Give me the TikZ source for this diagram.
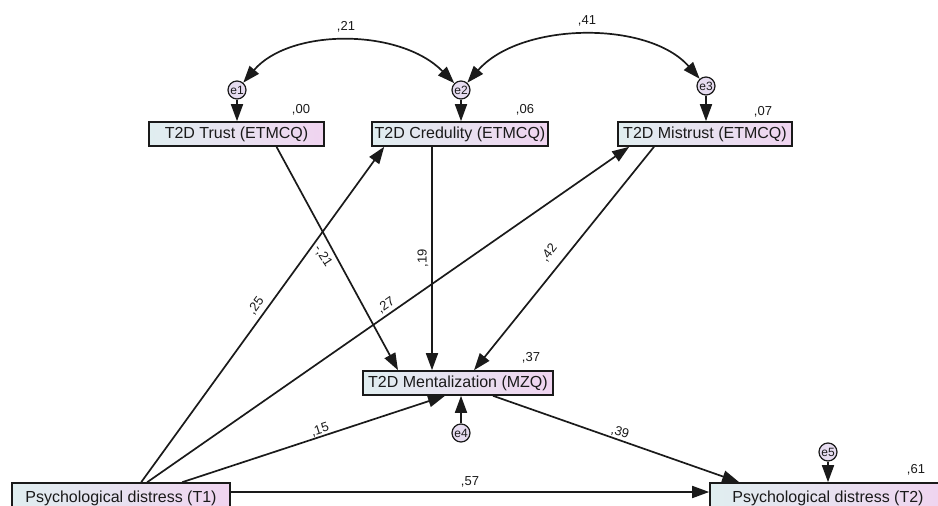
\documentclass[tikz,border=0pt]{standalone}
\usepackage{fontspec}
\setmainfont{Liberation Sans}
\usetikzlibrary{arrows.meta,calc}
\definecolor{boxL}{HTML}{E0EEF0}
\definecolor{boxR}{HTML}{F0D4F0}
\definecolor{errfill}{HTML}{E6DCF0}
\definecolor{ink}{HTML}{1A1A1A}
\begin{document}
\begin{tikzpicture}[x=1pt,y=-1pt,
  obs/.style={draw=ink,line width=1.6pt,left color=boxL,right color=boxR,shading angle=90,
    minimum height=24pt,inner sep=0pt,font=\fontsize{16}{16}\selectfont,text=ink},
  err/.style={circle,draw=ink,line width=1.2pt,fill=errfill,minimum size=18pt,inner sep=0pt,
    font=\fontsize{12}{12}\selectfont,text=ink},
  path/.style={draw=ink,line width=1.7pt,-{Triangle[length=17pt,width=12pt]}},
  cov/.style={draw=ink,line width=1.7pt,{Triangle[length=17pt,width=12pt]}-{Triangle[length=17pt,width=12pt]}},
  coef/.style={font=\fontsize{13}{13}\selectfont,text=ink,inner sep=0pt}]
\useasboundingbox (0,0) rectangle (938,506);
% observed variables
\node[obs,minimum width=175pt] (trust) at (236.5,134) {T2D Trust (ETMCQ)};
\node[obs,minimum width=176pt] (cred) at (460,134) {T2D Credulity (ETMCQ)};
\node[obs,minimum width=174pt] (mist) at (705,134) {T2D Mistrust (ETMCQ)};
\node[obs,minimum width=190pt] (ment) at (458,383) {T2D Mentalization (MZQ)};
\node[obs,minimum width=218pt,minimum height=30pt] (tone) at (121,498) {Psychological distress (T1)};
\node[obs,minimum width=236pt,minimum height=30pt] (ttwo) at (828,498) {Psychological distress (T2)};
% errors
\node[err] (e1) at (237,90) {e1};
\node[err] (e2) at (461,90) {e2};
\node[err] (e3) at (706,86) {e3};
\node[err] (e4) at (461,433) {e4};
\node[err] (e5) at (828,452) {e5};
% error arrows
\draw[path] (e1) -- (e1 |- trust.north);
\draw[path] (e2) -- (e2 |- cred.north);
\draw[path] (e3) -- (e3 |- mist.north);
\draw[path] (e4) -- (e4 |- ment.south);
\draw[path] (e5) -- (e5 |- ttwo.north);
% covariances
\draw[cov] (e1) .. controls (290,28) and (400,28) .. (e2);
\draw[cov] (e2) .. controls (520,22) and (648,20) .. (e3);
\node[coef] (c12) at (346,27) {,21};
\node[coef] (c23) at (587,21) {,41};
% R squared
\node[coef] (r1) at (301,110) {,00};
\node[coef] (r2) at (525,110) {,06};
\node[coef] (r3) at (763,112) {,07};
\node[coef] (r4) at (531,358) {,37};
\node[coef] (r5) at (916,470) {,61};
% structural paths
\draw[path] ([xshift=40pt]trust.south) -- ([xshift=-60pt]ment.north);
\draw[path] ([xshift=-28pt]cred.south) -- ([xshift=-26pt]ment.north);
\draw[path] ([xshift=-51pt]mist.south) -- ([xshift=16pt]ment.north);
\draw[path] ([xshift=130pt]tone.north west) -- ([xshift=13pt]cred.south west);
\draw[path] ([xshift=136pt]tone.north west) -- ([xshift=12pt]mist.south west);
\draw[path] ([xshift=171pt]tone.north west) -- ([xshift=-13pt]ment.south);
\draw[path] ([yshift=6pt]tone.east) -- ([yshift=6pt]ttwo.west);
\draw[path] ([xshift=35pt]ment.south) -- ([xshift=30pt]ttwo.north west);
% path coefficients
\node[coef,rotate=54] (p1) at (256,306) {,25};
\node[coef,rotate=-57] (p2) at (323,256) {-,21};
\node[coef,rotate=90] (p3) at (423,258) {,19};
\node[coef,rotate=35] (p4) at (386,305) {,27};
\node[coef,rotate=52] (p5) at (549,253) {,42};
\node[coef,rotate=18] (p6) at (320,430) {,15};
\node[coef,rotate=-16] (p7) at (620,432) {,39};
\node[coef] (p8) at (470,482) {,57};
\end{tikzpicture}
\end{document}
